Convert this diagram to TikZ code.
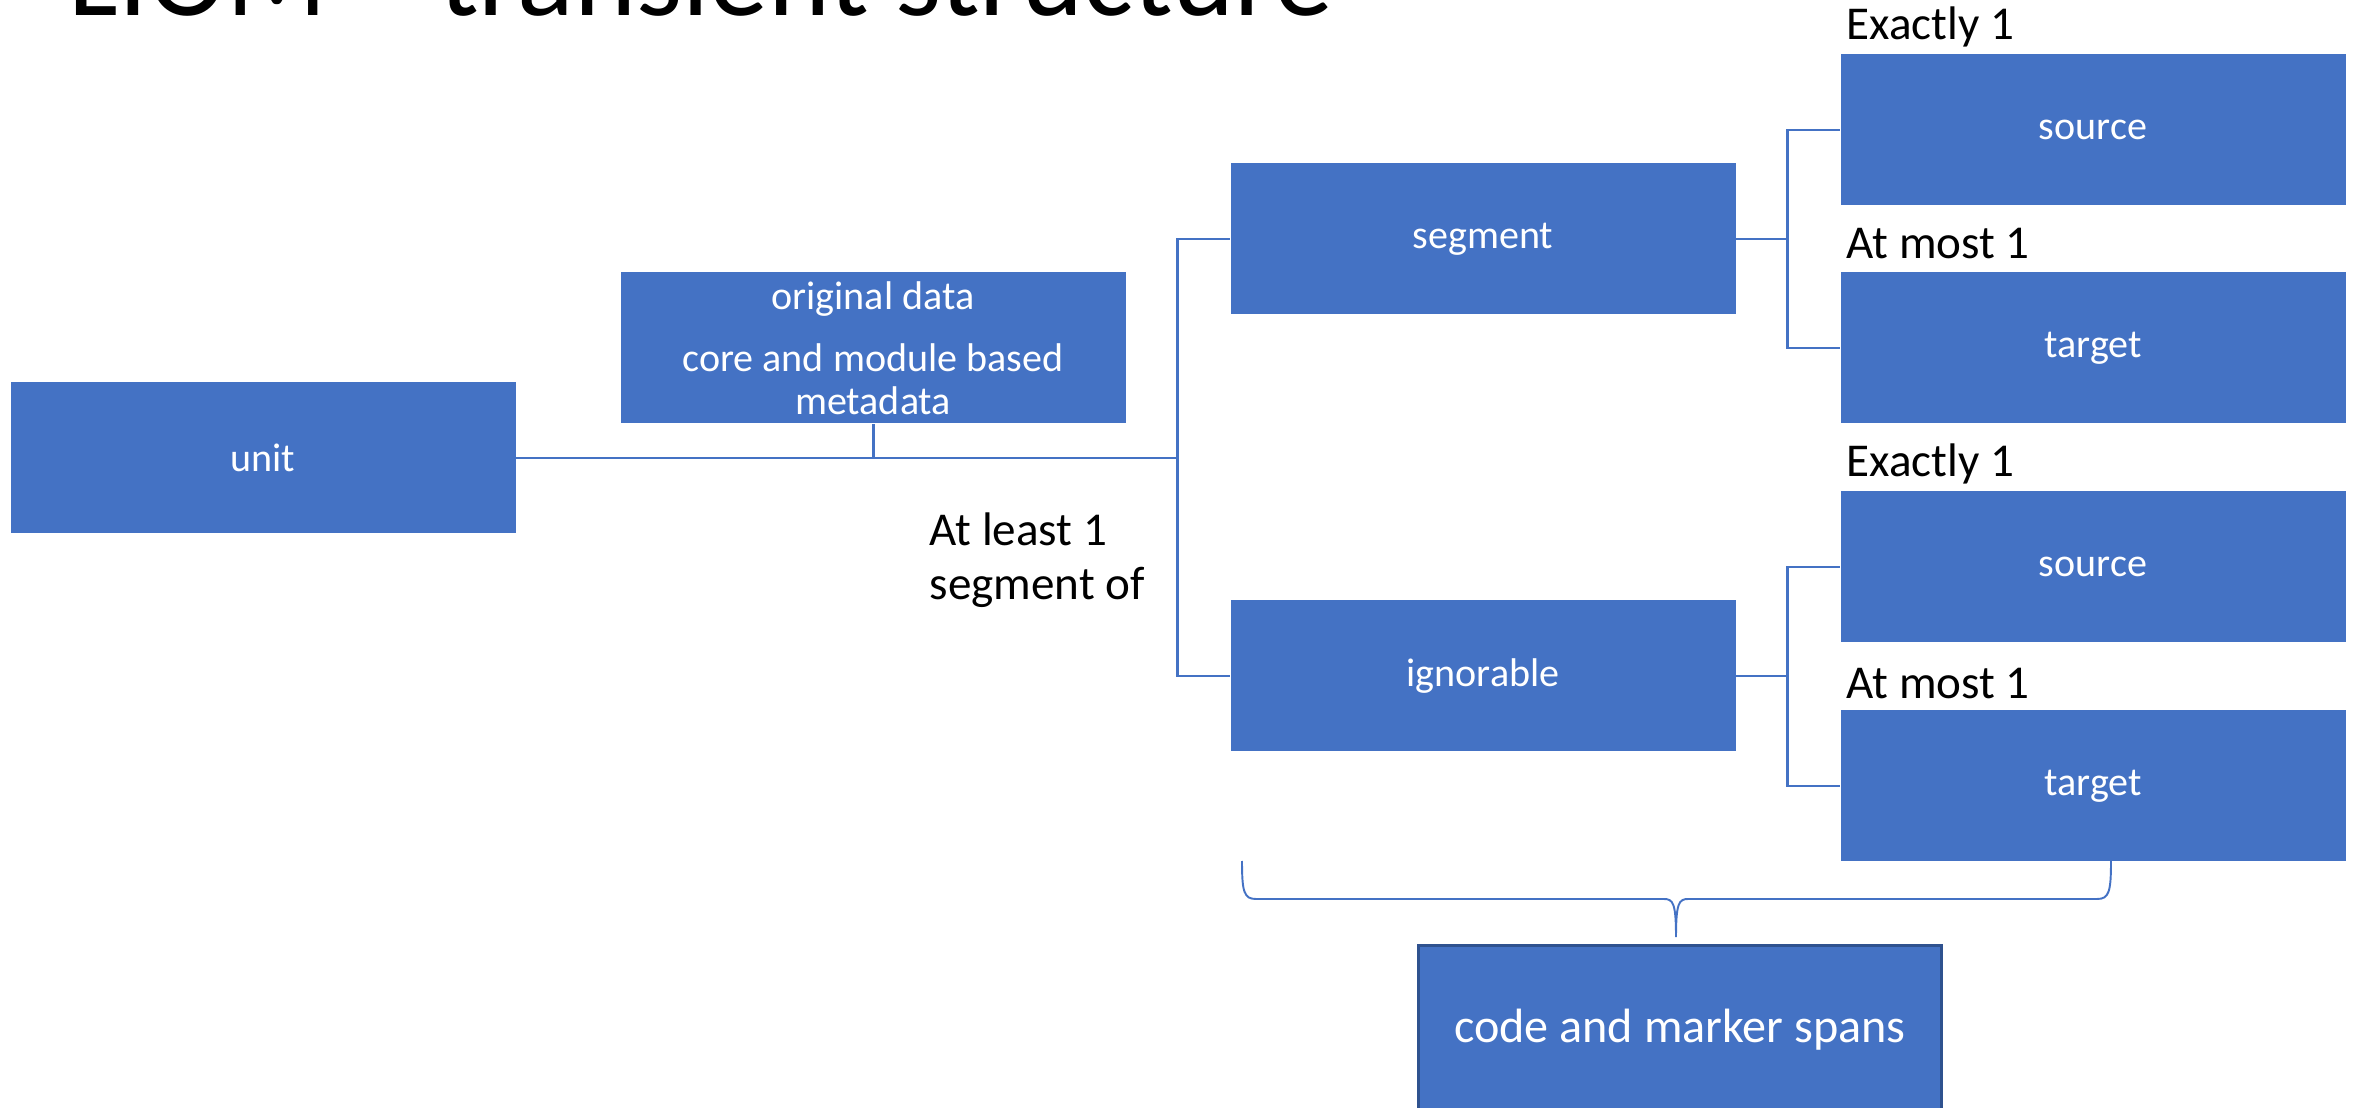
\documentclass[tikz,border=0pt]{standalone}
\usepackage{fontspec}
\setmainfont{Carlito}
\usepackage{tikz}
\definecolor{boxblue}{HTML}{4472C4}
\definecolor{edgeblue}{HTML}{2F528F}
\tikzset{
  box/.style={rectangle, fill=boxblue, text=white, inner sep=0pt,
    minimum width=50.5mm, minimum height=15.1mm,
    font=\fontsize{11.4}{12.2}\selectfont},
  link/.style={draw=boxblue, line width=0.85pt},
  count/.style={anchor=west, inner sep=0pt, align=left,
    font=\fontsize{13.4}{15.4}\selectfont}
}

\begin{document}
\begin{tikzpicture}[x=0.1mm,y=-0.1mm]
                \useasboundingbox (0,0) rectangle (2361,1108);
                \clip (0,0) rectangle (2361,1108);

                %title, only its lower part is seen
                \node[anchor=base west, inner sep=0pt, font=\fontsize{33.6}{40}\selectfont] (title) at (68,16) {LIOM -- transient structure};

                %the boxes, define nodes first
                \node[box] (unit) at (263,458) {unit};
                \node[box, align=center] (orig) at (873,348) {original data\\[1.9mm]core and module based\\metadata};
                \node[box] (seg) at (1483,239) {segment};
                \node[box] (ign) at (1483,676) {ignorable};
                \node[box] (src1) at (2093,130) {source};
                \node[box] (tgt1) at (2093,348) {target};
                \node[box] (src2) at (2093,567) {source};
                \node[box] (tgt2) at (2093,786) {target};
                \node[box, draw=edgeblue, line width=0.85pt, minimum width=52.3mm, minimum height=16.9mm,
                      font=\fontsize{13.7}{16}\selectfont] (spans) at (1680,1030) {code and marker spans};

                %unit splits into segment and ignorable
                \coordinate (split) at (1177,458);
                \draw[link] (unit.east) -- (split);
                \draw[link] (orig.south) -- (orig.south |- split);
                \draw[link] (seg.west) -| (split) |- (ign.west);

                %source and target of the segment
                \coordinate (segsplit) at (1787,239);
                \draw[link] (seg.east) -- (segsplit);
                \draw[link] (src1.west) -| (segsplit) |- (tgt1.west);

                %source and target of the ignorable
                \coordinate (ignsplit) at (1787,676);
                \draw[link] (ign.east) -- (ignsplit);
                \draw[link] (src2.west) -| (ignsplit) |- (tgt2.west);

                %label the counts
                \node[count] (c1) at (1846,27) {Exactly 1};
                \node[count] (c2) at (1846,244) {At most 1};
                \node[count] (c3) at (1846,464) {Exactly 1};
                \node[count] (c4) at (1846,684) {At most 1};
                \node[count] (c5) at (929,560) {At least 1\\segment of};

                %brace over the spans
                \draw[boxblue, line width=0.55pt] (1242,861) .. controls (1242,892) and (1244,899) .. (1256,899)
                    -- (1664,899) .. controls (1673,899) and (1676,903) .. (1676,937)
                    .. controls (1676,903) and (1679,899) .. (1688,899)
                    -- (2097,899) .. controls (2109,899) and (2111,892) .. (2111,861);
            \end{tikzpicture}
\end{document}
